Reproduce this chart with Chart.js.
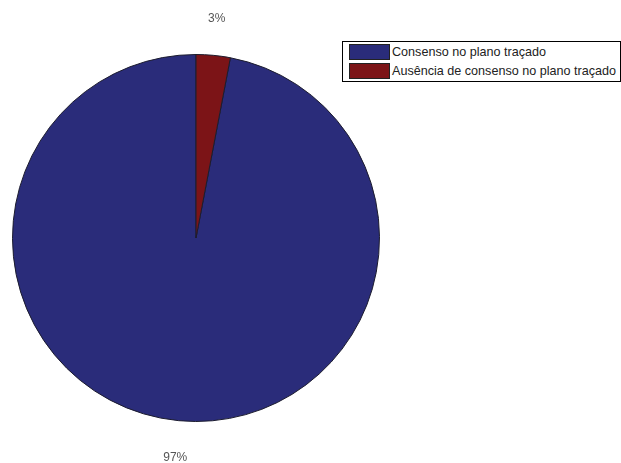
<!DOCTYPE html>
<html>
<head>
<meta charset="utf-8">
<script src="https://cdn.jsdelivr.net/npm/chart.js@4"></script>
<style>
  html, body { margin: 0; padding: 0; background: #fff; }
  #wrap { position: relative; width: 621px; height: 463px; }
  #legend {
    position: absolute; left: 342px; top: 41px; width: 277px; height: 39px;
    border: 1px solid #000; background: #fff;
    font: 12.6px 'Liberation Sans', Arial, sans-serif; color: #222;
  }
  #legend .row { position: absolute; left: 6px; height: 16px; line-height: 16px; white-space: nowrap; }
  #legend .sw { display: inline-block; width: 41px; height: 16px; border: 1px solid #222; box-sizing: border-box; vertical-align: top; margin-right: 2px; }
</style>
</head>
<body>
<div id="wrap">
  <canvas id="pie" width="621" height="463"></canvas>
  <div id="legend"></div>
</div>
<script>
/* ── Data ── */
const categories = ['Consenso no plano traçado', 'Ausência de consenso no plano traçado'];
const values = [97, 3];
const colors = ['#2a2c7a', '#7c1417'];

const total = values.reduce((a, b) => a + b, 0);

/* ── Percent labels outside each slice ── */
const outsideLabels = {
  id: 'outsideLabels',
  afterDatasetsDraw(chart) {
    const ctx = chart.ctx;
    const meta = chart.getDatasetMeta(0);
    ctx.save();
    ctx.font = "12px 'Liberation Sans', Arial, sans-serif";
    ctx.fillStyle = '#555';
    ctx.textAlign = 'center';
    ctx.textBaseline = 'middle';
    meta.data.forEach((arc, i) => {
      const { x, y, startAngle, endAngle, outerRadius } = arc.getProps(['x', 'y', 'startAngle', 'endAngle', 'outerRadius'], true);
      const mid = (startAngle + endAngle) / 2;
      const r = outerRadius + 37;
      const pct = Math.round(values[i] / total * 100) + '%';
      ctx.fillText(pct, x + Math.cos(mid) * r, y + Math.sin(mid) * r);
    });
    ctx.restore();
  },
};

new Chart(document.getElementById('pie').getContext('2d'), {
  type: 'pie',
  data: {
    labels: categories,
    datasets: [{
      data: values,
      backgroundColor: colors,
      borderColor: '#1c1c2e',
      borderWidth: 1,
    }],
  },
  options: {
    responsive: false,
    animation: false,
    rotation: values[1] / total * 360,
    layout: { padding: { left: 12, top: 54, bottom: 41, right: 241 } },
    plugins: {
      legend: { display: false },
      tooltip: { enabled: false },
    },
  },
  plugins: [outsideLabels],
});

/* ── Boxed legend ── */
const legend = document.getElementById('legend');
categories.forEach((name, i) => {
  const row = document.createElement('div');
  row.className = 'row';
  row.style.top = (2 + i * 19) + 'px';
  row.innerHTML = '<span class="sw" style="background:' + colors[i] + '"></span>' + name;
  legend.appendChild(row);
});
</script>
</body>
</html>
